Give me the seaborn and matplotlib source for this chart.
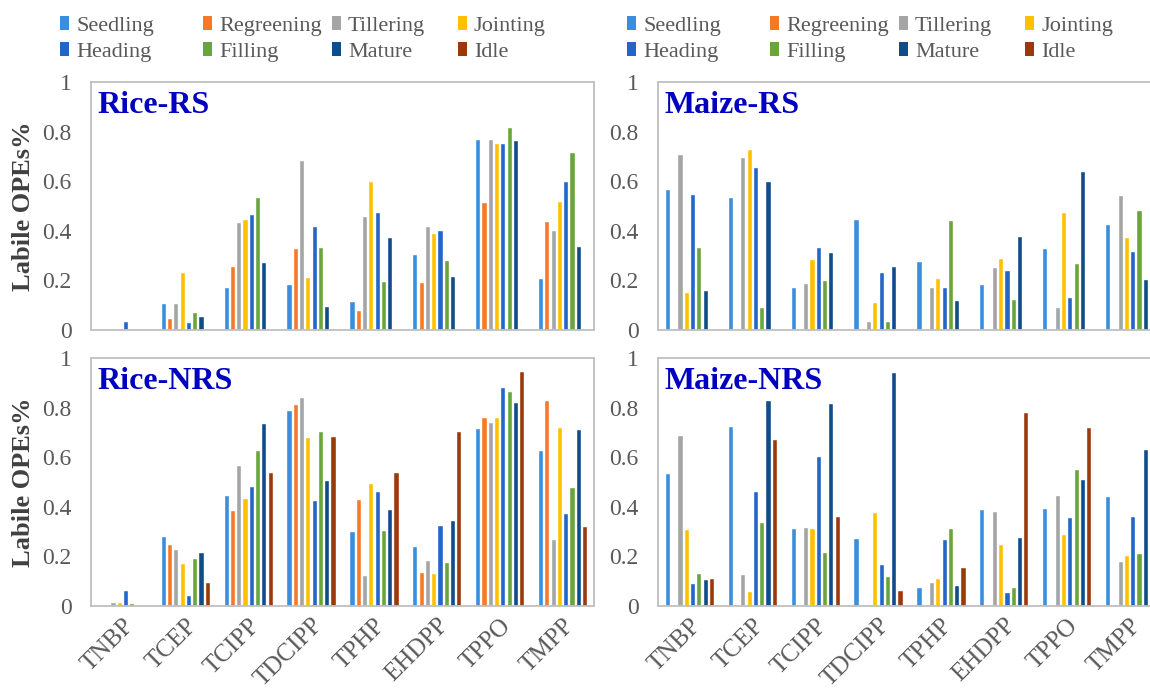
import numpy as np
import pandas as pd
import matplotlib
matplotlib.use("Agg")
import matplotlib.pyplot as plt
from matplotlib.patches import Patch
import seaborn as sns

# ---- categories -------------------------------------------------------------
compounds = ["TNBP", "TCEP", "TCIPP", "TDCIPP", "TPHP", "EHDPP", "TPPO", "TMPP"]
stages = ["Seedling", "Regreening", "Tillering", "Jointing",
          "Heading", "Filling", "Mature", "Idle"]
stage_colors = ["#3B8EDB", "#F47A28", "#A5A5A5", "#FFC000",
                "#2266C8", "#6AA53C", "#0F4C8A", "#9A3A0A"]
nan = np.nan

# ---- labile OPE fractions, one list per growth stage (order = compounds) ----
rice_rs = {
    "Seedling":   [0.0, 0.11, 0.172, 0.185, 0.116, 0.308, 0.77, 0.208],
    "Regreening": [0.0, 0.05, 0.26, 0.329, 0.082, 0.192, 0.515, 0.441],
    "Tillering":  [0.005, 0.11, 0.434, 0.685, 0.458, 0.42, 0.77, 0.405],
    "Jointing":   [0.01, 0.235, 0.448, 0.215, 0.6, 0.391, 0.754, 0.522],
    "Heading":    [0.035, 0.034, 0.468, 0.418, 0.477, 0.405, 0.754, 0.6],
    "Filling":    [0.006, 0.074, 0.538, 0.333, 0.199, 0.284, 0.817, 0.716],
    "Mature":     [0.0, 0.058, 0.274, 0.098, 0.375, 0.219, 0.767, 0.337],
    "Idle":       [nan] * 8,
}
maize_rs = {
    "Seedling":   [0.569, 0.535, 0.172, 0.448, 0.277, 0.185, 0.329, 0.427],
    "Regreening": [nan] * 8,
    "Tillering":  [0.71, 0.699, 0.188, 0.035, 0.172, 0.255, 0.094, 0.544],
    "Jointing":   [0.152, 0.73, 0.286, 0.112, 0.208, 0.289, 0.474, 0.374],
    "Heading":    [0.548, 0.659, 0.333, 0.233, 0.175, 0.242, 0.134, 0.317],
    "Filling":    [0.333, 0.091, 0.203, 0.035, 0.444, 0.125, 0.27, 0.484],
    "Mature":     [0.16, 0.6, 0.313, 0.26, 0.122, 0.378, 0.64, 0.206],
    "Idle":       [nan] * 8,
}
rice_nrs = {
    "Seedling":   [0.0, 0.282, 0.447, 0.789, 0.302, 0.242, 0.718, 0.628],
    "Regreening": [0.0, 0.248, 0.387, 0.815, 0.43, 0.138, 0.762, 0.83],
    "Tillering":  [0.017, 0.23, 0.57, 0.844, 0.125, 0.185, 0.742, 0.272],
    "Jointing":   [0.017, 0.172, 0.434, 0.682, 0.497, 0.134, 0.762, 0.722],
    "Heading":    [0.064, 0.044, 0.483, 0.427, 0.463, 0.326, 0.883, 0.373],
    "Filling":    [0.013, 0.192, 0.628, 0.705, 0.306, 0.179, 0.866, 0.478],
    "Mature":     [0.004, 0.216, 0.738, 0.51, 0.393, 0.346, 0.823, 0.715],
    "Idle":       [0.0, 0.095, 0.541, 0.685, 0.541, 0.705, 0.946, 0.322],
}
maize_nrs = {
    "Seedling":   [0.537, 0.725, 0.313, 0.275, 0.078, 0.393, 0.396, 0.443],
    "Regreening": [nan] * 8,
    "Tillering":  [0.689, 0.129, 0.319, 0.007, 0.095, 0.383, 0.447, 0.183],
    "Jointing":   [0.309, 0.06, 0.313, 0.38, 0.111, 0.252, 0.289, 0.205],
    "Heading":    [0.091, 0.463, 0.604, 0.168, 0.272, 0.058, 0.36, 0.362],
    "Filling":    [0.134, 0.34, 0.219, 0.122, 0.315, 0.075, 0.552, 0.215],
    "Mature":     [0.109, 0.832, 0.819, 0.944, 0.085, 0.279, 0.514, 0.635],
    "Idle":       [0.111, 0.675, 0.362, 0.064, 0.158, 0.783, 0.722, nan],
}

y_ticks = [0, 0.2, 0.4, 0.6, 0.8, 1.0]
y_tick_labels = ["0", "0.2", "0.4", "0.6", "0.8", "1"]

# ---- style ------------------------------------------------------------------
sns.set_style("white")
plt.rcParams["font.family"] = ["Liberation Serif", "DejaVu Serif"]
TICK_GRAY = "#595959"
FRAME_GRAY = "#BFBFBF"
TITLE_BLUE = "#0000C0"

W, H = 1150, 690
fig = plt.figure(figsize=(W / 100, H / 100), dpi=100)


def px_axes(x0, y0, w, h):
    """Axes placed by pixel box (top-left origin)."""
    return fig.add_axes([x0 / W, 1 - (y0 + h) / H, w / W, h / H])


def long_form(table):
    rows = []
    for st in stages:
        for comp, val in zip(compounds, table[st]):
            rows.append({"compound": comp, "stage": st, "value": val})
    return pd.DataFrame(rows)


panels = [
    (rice_rs, "Rice-RS", (91, 82), True, False),
    (maize_rs, "Maize-RS", (658, 82), False, False),
    (rice_nrs, "Rice-NRS", (91, 358), True, True),
    (maize_nrs, "Maize-NRS", (658, 358), False, True),
]

for table, title, (x0, y0), show_ylabel, show_xlabels in panels:
    ax = px_axes(x0, y0, 503, 248)
    df = long_form(table)
    sns.barplot(data=df, x="compound", y="value", hue="stage",
                order=compounds, hue_order=stages, palette=stage_colors,
                saturation=1, errorbar=None, gap=0.18, width=0.8,
                legend=False, ax=ax)
    ax.set_xlim(-0.5, len(compounds) - 0.5)
    ax.set_ylim(0, 1)
    ax.set_yticks(y_ticks)
    ax.set_yticklabels(y_tick_labels)
    ax.tick_params(axis="y", length=0, pad=14, labelsize=17, labelcolor=TICK_GRAY)
    ax.tick_params(axis="x", length=0, pad=6, labelsize=18, labelcolor=TICK_GRAY)
    if show_xlabels:
        for lab in ax.get_xticklabels():
            lab.set_rotation(45)
            lab.set_ha("right")
            lab.set_rotation_mode("anchor")
    else:
        ax.set_xticklabels([])
    ax.set_xlabel("")
    if show_ylabel:
        ax.set_ylabel("Labile OPEs%", fontsize=19, fontweight="bold",
                      color="#404040")
        ax.yaxis.set_label_coords(-0.112, 0.5)
    else:
        ax.set_ylabel("")
    for sp in ax.spines.values():
        sp.set_visible(True)
        sp.set_color(FRAME_GRAY)
        sp.set_linewidth(1.3)
    ax.text(0.012, 0.965, title, transform=ax.transAxes, ha="left", va="top",
            fontsize=23, fontweight="bold", color=TITLE_BLUE)

# ---- legends above each column of panels ------------------------------------
handles = [Patch(facecolor=c, edgecolor="none", label=s)
           for s, c in zip(stages, stage_colors)]
col_offsets = [0, 143, 272, 398]
for side_x in (62, 629):
    for j, dx in enumerate(col_offsets):
        fig.legend(handles=[handles[j], handles[j + 4]], loc="upper left",
                   bbox_to_anchor=((side_x + dx - 2) / W, 1 - 16 / H),
                   frameon=False, fontsize=16, labelcolor=TICK_GRAY,
                   handlelength=0.42, handleheight=0.6, handletextpad=0.3,
                   labelspacing=0.28, borderpad=0, borderaxespad=0)

fig.savefig("out.png", dpi=100)
